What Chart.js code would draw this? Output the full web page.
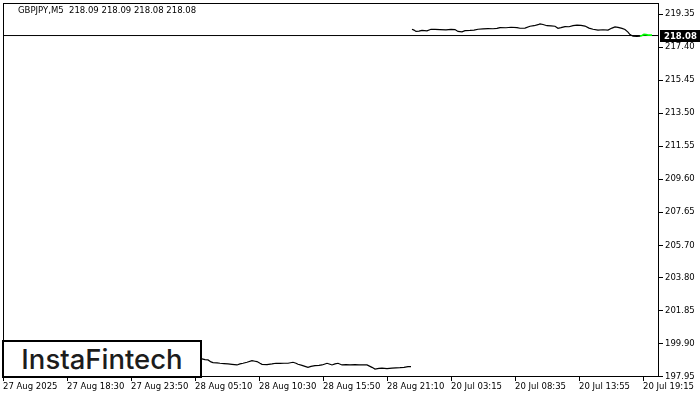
<!DOCTYPE html>
<html>
<head>
<meta charset="utf-8">
<script src="https://cdn.jsdelivr.net/npm/chart.js@4.4.1/dist/chart.umd.min.js"></script>
<style>
  html, body { margin: 0; padding: 0; background: #fff; }
  #wrap { position: relative; width: 700px; height: 400px; }
  #logo {
    position: absolute; left: 2px; top: 340px; width: 200px; height: 38px;
    box-sizing: border-box; border: 2px solid #000; background: #fff;
    font-family: Inter, "Open Sans", sans-serif; font-weight: 500; font-size: 27.5px;
    color: #1c1c1c; text-align: center; line-height: 34px; letter-spacing: 0px;
  }
</style>
</head>
<body>
<div id="wrap">
  <canvas id="c" width="700" height="400"></canvas>
  <div id="logo">InstaFintech</div>
</div>
<script>
// ---- data ----
const titleText = "GBPJPY,M5  218.09 218.09 218.08 218.08";
const lastPrice = 218.08;
const tickLabels = ["27 Aug 2025","27 Aug 18:30","27 Aug 23:50","28 Aug 05:10","28 Aug 10:30","28 Aug 15:50","28 Aug 21:10","20 Jul 03:15","20 Jul 08:35","20 Jul 13:55","20 Jul 19:15"];
const tickBars = [0,64,128,192,256,320,384,448,512,576,640];
const priceTicks = [197.95,199.90,201.85,203.80,205.70,207.65,209.60,211.55,213.50,215.45,217.40,219.35];

const seg1Bars = [0,15,30,48,65,82,100,118,135,152,170,185,197,199,202,205,208,210,214,217,221,225,229,234,237,240,244,249,252,254,257,259,264,269,273,277,281,285,290,293,295,299,302,305,308,312,316,319,322,324,327,329,332,335,339,343,347,352,356,359,364,369,372,376,379,384,389,393,397,401,405,408];
const seg1Vals = [199.20,199.28,199.15,199.22,199.10,199.18,199.05,199.12,199.00,199.08,198.98,199.04,199.00,199.00,198.96,198.94,198.82,198.78,198.76,198.74,198.72,198.70,198.68,198.64,198.70,198.74,198.80,198.89,198.86,198.84,198.74,198.68,198.66,198.70,198.74,198.73,198.74,198.74,198.80,198.74,198.68,198.62,198.56,198.50,198.56,198.60,198.62,198.64,198.70,198.74,198.68,198.64,198.70,198.74,198.64,198.66,198.64,198.66,198.64,198.65,198.64,198.50,198.40,198.44,198.45,198.43,198.45,198.47,198.48,198.50,198.54,198.54];

const seg2Bars = [409,411,413,416,419,424,428,432,437,443,448,452,455,459,462,467,471,475,480,485,490,494,497,503,508,514,517,522,527,531,535,537,540,544,548,552,555,558,562,566,570,574,578,582,586,590,595,600,605,609,612,615,619,622,625,627,630,634,637];
const seg2Vals = [218.45,218.40,218.32,218.34,218.38,218.36,218.45,218.44,218.43,218.41,218.44,218.43,218.32,218.30,218.37,218.38,218.40,218.45,218.47,218.49,218.48,218.50,218.55,218.54,218.57,218.55,218.51,218.52,218.63,218.66,218.72,218.77,218.73,218.66,218.65,218.63,218.51,218.55,218.61,218.60,218.66,218.69,218.68,218.64,218.52,218.45,218.40,218.42,218.40,218.52,218.59,218.56,218.50,218.44,218.28,218.14,218.04,218.03,218.04];

const liveBars = [637,639,641,643,645,649];
const liveVals = [218.04,218.08,218.14,218.13,218.10,218.10];

const totalBars = 656;

// ---- helpers ----
const pts = (xs, ys) => xs.map((x, i) => ({ x: x, y: ys[i] }));
const FONT = "DejaVu Sans";

const framePlugin = {
  id: 'frame',
  afterDatasetsDraw(chart) {
    const { ctx, chartArea: a, scales } = chart;
    ctx.save();
    ctx.strokeStyle = '#000';
    ctx.lineWidth = 1;
    ctx.strokeRect(Math.round(a.left) + 0.5, Math.round(a.top) + 0.5,
                   Math.round(a.right - a.left) - 1, Math.round(a.bottom - a.top) - 1);
    // title
    ctx.fillStyle = '#000';
    ctx.font = "8.5px " + FONT;
    ctx.textBaseline = 'middle';
    ctx.textAlign = 'left';
    ctx.fillText(titleText, 18, 11);
    // price tag
    const y = Math.round(scales.y.getPixelForValue(lastPrice));
    ctx.fillStyle = '#000';
    ctx.fillRect(Math.round(a.right) + 1, y - 6, 41, 12);
    ctx.fillStyle = '#fff';
    ctx.font = "bold 8.5px " + FONT;
    ctx.fillText(lastPrice.toFixed(2), Math.round(a.right) + 5, y + 0.5);
    ctx.restore();
  }
};

new Chart(document.getElementById('c'), {
  type: 'line',
  data: {
    datasets: [
      { data: [{ x: 0, y: lastPrice }, { x: totalBars, y: lastPrice }], borderColor: '#000', borderWidth: 1, pointRadius: 0, order: 4 },
      { data: pts(seg1Bars, seg1Vals), borderColor: '#000', borderWidth: 1.2, pointRadius: 0, tension: 0, order: 3 },
      { data: pts(seg2Bars, seg2Vals), borderColor: '#000', borderWidth: 1.2, pointRadius: 0, tension: 0, order: 2 },
      { data: pts(liveBars, liveVals), borderColor: '#00ff00', borderWidth: 1.8, pointRadius: 0, tension: 0, order: 1 }
    ]
  },
  options: {
    responsive: false,
    animation: false,
    events: [],
    layout: { padding: { left: 3, top: 3, right: 0, bottom: 0 } },
    plugins: { legend: { display: false }, tooltip: { enabled: false }, title: { display: false } },
    scales: {
      x: {
        type: 'linear',
        min: 0,
        max: totalBars,
        afterBuildTicks(s) { s.ticks = tickBars.map(v => ({ value: v })); },
        afterFit(s) { s.height = 23; s.paddingLeft = 0; },
        grid: { display: true, drawOnChartArea: false, drawTicks: true, tickLength: 4, color: '#000', lineWidth: 1 },
        border: { display: false },
        ticks: {
          autoSkip: false, maxRotation: 0, minRotation: 0, align: 'start', padding: 1,
          color: '#000', font: { family: FONT, size: 8.5 },
          callback: (v) => tickLabels[tickBars.indexOf(v)]
        }
      },
      y: {
        position: 'right',
        min: 197.93,
        max: 220.0,
        afterBuildTicks(s) { s.ticks = priceTicks.map(v => ({ value: v })); },
        afterFit(s) { s.width = 41; s.paddingTop = 0; s.paddingBottom = 0; },
        grid: { display: true, drawOnChartArea: false, drawTicks: true, tickLength: 4, color: '#000', lineWidth: 1 },
        border: { display: false },
        ticks: {
          autoSkip: false, padding: 2, color: '#000', font: { family: FONT, size: 8.5 },
          callback: (v) => Number(v).toFixed(2)
        }
      }
    }
  },
  plugins: [framePlugin]
});
</script>
</body>
</html>
